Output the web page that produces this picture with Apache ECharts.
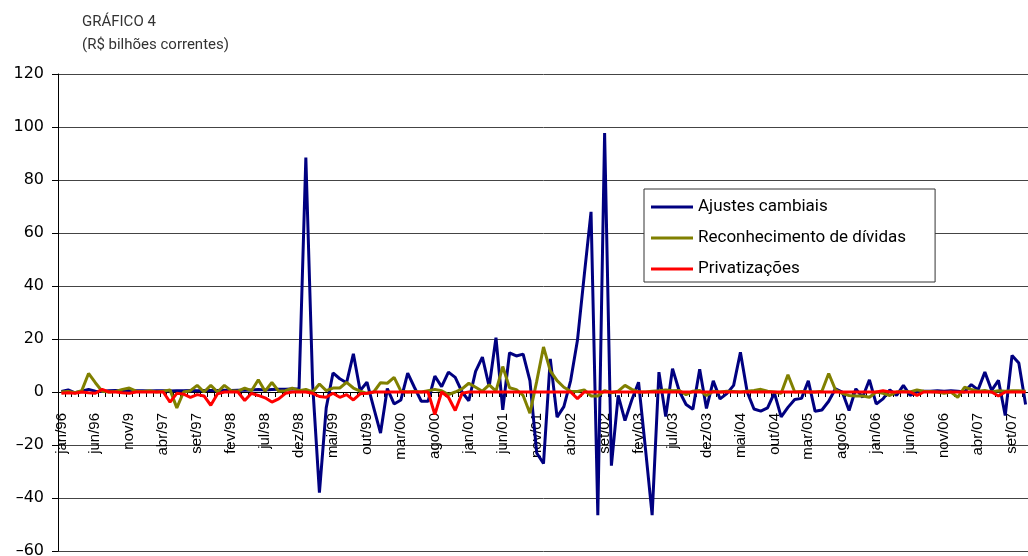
<!DOCTYPE html>
<html><head><meta charset="utf-8">
<script src="https://cdn.jsdelivr.net/npm/echarts@6/dist/echarts.min.js"></script>
<style>html,body{margin:0;padding:0;background:#fff}#c{width:1028px;height:556px}</style>
</head><body><div id="c"></div>
<script>
// Month name prefixes and years for the category axis (jan/96 .. nov/07)
const monthNames = ['jan','fev','mar','abr','mai','jun','jul','ago','set','out','nov','dez'];
const years = ['96','97','98','99','00','01','02','03','04','05','06','07'];
const nPoints = 143;

// Ajustes cambiais (R$ bilhões), one row per year
const ajustesCambiais = [
  0.2,0.8,-0.3,0.3,1.0,0.3,0.2,0.5,0.6,0.5,0.6,0.5,
  0.5,0.4,0.5,0.5,0.4,0.5,0.5,0.6,0.5,0.6,0.6,0.6,
  0.7,0.6,0.7,0.7,0.8,0.9,0.8,0.9,1.0,1.0,1.1,1.2,
  88.5,3,-38,-6,7.2,5,3.5,14.4,0.5,3.7,-6,-15.5,
  1.3,-4.5,-3,7.1,1.7,-3.5,-3.5,6,2,7.5,5.5,0,
  -3.3,7.8,13.2,2,20.5,-6.7,14.8,13.6,14.3,4.3,-23,-27,
  12.5,-9.5,-5.5,4.3,19.5,44,68,-46.5,97.7,-27.8,-1.3,-10.8,
  -3,3.7,-21,-46.5,7.5,-9.3,8.8,0.3,-4.7,-6.5,8.6,-6.2,
  4.2,-2.6,-0.6,2.5,15,0,-6.4,-7.2,-6,-0.3,-9.4,-5.8,
  -2.8,-2.4,4.2,-7.3,-6.8,-3.5,1.2,0,-7,1.2,-2,4.6,
  -4.5,-2.6,0.8,-1.3,2.5,-1.3,0,0.3,0.3,0.5,0.3,0.5,
  0.3,0,2.8,0.8,7.5,0.6,4.4,-8.9,13.8,10.9,-4.7
];

// Reconhecimento de dívidas
const reconhecimentoDividas = [
  0,0.2,-0.3,0.5,7,3.5,0.3,0,0.2,1.0,1.5,0.3,
  0.2,0.5,0,0.3,0.8,-6,0,0.5,2.5,0,2.5,0,
  2.5,0.5,0.3,1.5,0.5,4.6,0.3,3.6,0.3,0.5,1.5,0.5,
  1,0,3,0.5,1.5,1.5,3.6,1.5,0.3,-0.5,0,3.5,
  3.3,5.5,0.3,0,0.2,0,0.5,1,0.5,-1,0,1.2,
  3.3,1.8,0.3,2.7,0.3,9.6,1.6,0.9,-1.3,-8,4,17,
  8,4.3,1.8,0.3,0.2,0.8,-1.5,-1.5,0.5,-0.3,0.3,2.5,
  1,0,0,0.3,0.5,0.8,0.5,0.6,-1,0.3,0.6,-1.3,
  0.3,0,0.3,0.2,0,0.3,0.6,1.0,0.3,0,-0.5,6.5,
  0,0.2,0,0,0.3,7,0.8,-0.5,-1.3,-1.5,-1.5,-2,
  0,-0.5,-1.3,0,0.3,0,0.8,0.3,0.2,0,-0.5,0,
  -2,1.8,1,0.3,0.6,0,0.5,0.3,0.5,0.5,0.3
];

// Privatizações
const privatizacoes = [
  -0.5,-0.3,-0.5,0,-0.3,-0.5,1,0,0,-0.3,-0.5,0,
  0,0,0,0,-3.8,-0.5,-0.8,-2,-1,-1.5,-5,-0.7,
  0,0,0,-3.2,-0.5,-1.3,-2.2,-3.8,-2.6,-0.5,0,0,
  0,-0.5,-1.7,-2,-0.5,-2,-1,-3,-0.7,-0.5,0,0,
  0,0,0,0,0,0,0,-8.5,0,-2,-7,-0.5,
  0,0,0,0,0,0,0,0,0,0,0,0,
  0,0,0,0,-2.5,0,0,0,0,0,0,0,
  0,0,0,0,0,0,0,0,0,0,0,0,
  0,0,0,0,0,0,0,0,0,0,0,0,
  0,0,0,0,0,0,0,0,0,0,0,0,
  0,0.5,0,0,0,0,-1.3,0,0,0,0,0,
  0,0,0,0,0,0,-1.5,0,0,0,0
];

const seriesNames = ['Ajustes cambiais','Reconhecimento de dívidas','Privatizações'];
const seriesColors = ['#000080','#808000','#ff0000'];
const yTicks = { min: -60, max: 120, interval: 20 };

const categories = [];
for (let y = 0; y < years.length; y++) {
  for (let m = 0; m < 12; m++) {
    if (categories.length < nPoints) categories.push(monthNames[m] + '/' + years[y]);
  }
}
categories[10] = 'nov/9'; // as printed in the source chart

const gridTop = 74, gridHeight = 477;
// pixel offset that lifts the category axis from the grid bottom up to the value 0 line
const zeroOffset = -gridHeight * (0 - yTicks.min) / (yTicks.max - yTicks.min);

const chart = echarts.init(document.getElementById('c'), null, { renderer: 'canvas' });
const dataSets = [ajustesCambiais, reconhecimentoDividas, privatizacoes];

chart.setOption({
  animation: false,
  backgroundColor: '#fff',
  graphic: [
    { type: 'text', left: 82, top: 15, style: { text: 'GRÁFICO 4', font: '15px Roboto', fill: '#333' } },
    { type: 'text', left: 82, top: 38, style: { text: '(R$ bilhões correntes)', font: '15px Roboto', fill: '#333' } }
  ],
  grid: { left: 58, top: gridTop, width: 971, height: gridHeight, containLabel: false, outerBoundsMode: 'none' },
  legend: {
    orient: 'vertical', left: 644, top: 189,
    backgroundColor: '#fff', borderColor: '#333', borderWidth: 1,
    padding: [8, 29, 3, 7],
    itemWidth: 42, itemHeight: 3, itemGap: 11, icon: 'rect',
    textStyle: { fontFamily: 'Roboto', fontSize: 17, color: '#000', lineHeight: 20 },
    data: seriesNames
  },
  xAxis: {
    type: 'category', data: categories, boundaryGap: true,
    position: 'bottom', offset: zeroOffset,
    axisLine: { onZero: false, lineStyle: { color: '#000', width: 1 } },
    axisTick: { show: true, interval: 0, length: 5, lineStyle: { color: '#000' } },
    axisLabel: { interval: 4, rotate: 90, margin: 21, fontFamily: 'Liberation Sans', fontSize: 15, color: '#000' },
    splitLine: { show: false }
  },
  yAxis: {
    type: 'value', min: yTicks.min, max: yTicks.max, interval: yTicks.interval,
    axisLine: { show: true, onZero: false, lineStyle: { color: '#000', width: 1 } },
    axisTick: { show: true, length: 6, lineStyle: { color: '#000' } },
    axisLabel: {
      margin: 14, fontFamily: 'DejaVu Sans', fontSize: 16, color: '#000',
      formatter: v => (v < 0 ? '\u2013' + Math.abs(v) : String(v))
    },
    splitLine: { show: true, lineStyle: { color: '#444', width: 1 } }
  },
  series: seriesNames.map((name, k) => ({
    name, type: 'line', data: dataSets[k], symbol: 'none', showSymbol: false,
    lineStyle: { color: seriesColors[k], width: 3 },
    itemStyle: { color: seriesColors[k] },
    z: 2 + k
  }))
});
</script></body></html>
